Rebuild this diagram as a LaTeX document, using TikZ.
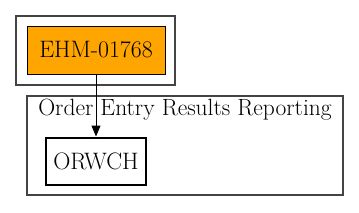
\documentclass[tikz,border=0pt]{standalone}
\usetikzlibrary{arrows.meta}
\definecolor{orangefill}{HTML}{FFA500}
\definecolor{clustergray}{HTML}{444444}
\begin{document}
\begin{tikzpicture}[x=1pt,y=-1pt,
  cluster/.style={draw=clustergray,line width=1.3pt},
  nodebox/.style={draw=black,inner sep=0pt,font=\fontsize{23.8}{28}\selectfont},
  lbl/.style={inner sep=0pt,font=\fontsize{23.5}{28}\selectfont},
  edge/.style={draw=black,line width=1pt,-{Triangle[length=11pt,width=9pt]}}]
\useasboundingbox (0,0) rectangle (359,212);
\draw[cluster] (16,16) rectangle (175,85);
\draw[cluster] (27,96) rectangle (343,195);
\node[lbl] (title) at (185,110) {Order Entry Results Reporting};
\node[nodebox,fill=orangefill,line width=1pt,minimum width=138pt,minimum height=48pt] (ehm) at (96,50) {EHM-01768};
\node[nodebox,line width=2pt,minimum width=100pt,minimum height=47pt] (orwch) at (96,161) {ORWCH};
\draw[edge] (ehm) -- (orwch);
\end{tikzpicture}
\end{document}
